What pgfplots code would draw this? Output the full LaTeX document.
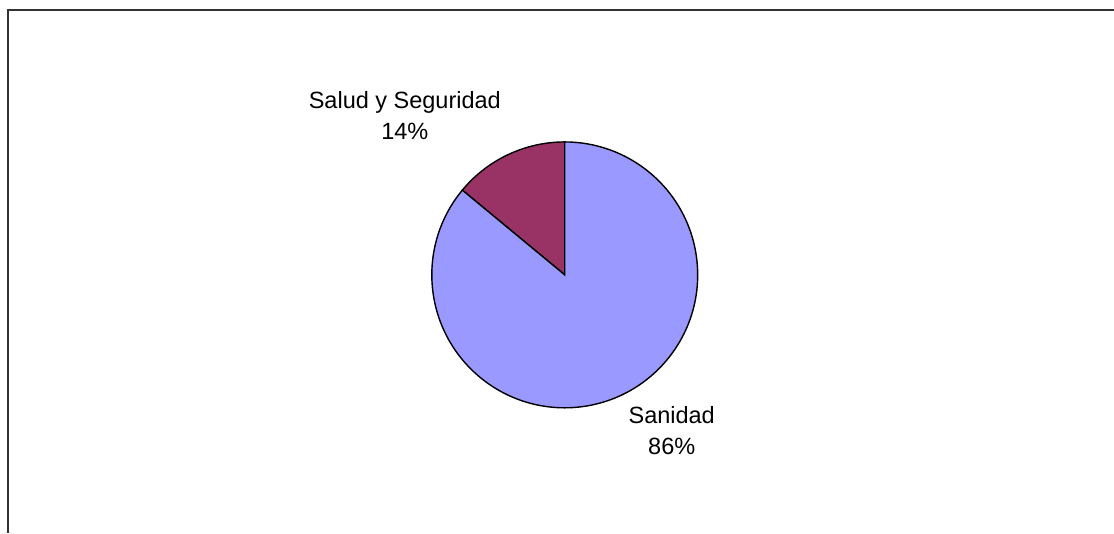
\documentclass[border=0pt]{standalone}
\usepackage{pgfplots}
\usepackage{pgfplotstable}
\usepackage{fontspec}
\setmainfont{Liberation Sans}
\pgfplotsset{compat=1.18}

\definecolor{sanidad}{HTML}{9999FF}
\definecolor{salud}{HTML}{993366}

% share of each sector, in percent
\pgfplotstableread{
value
14
86
}\piedata

\begin{document}
\begin{tikzpicture}
\pgfplotstablegetelem{0}{value}\of\piedata \let\vSalud\pgfplotsretval
\pgfplotstablegetelem{1}{value}\of\piedata \let\vSanidad\pgfplotsretval
\pgfmathsetmacro\aEnd{90+3.6*\vSalud}
\pgfmathsetmacro\xEnd{565+133*cos(\aEnd)}
\pgfmathsetmacro\yEnd{258+133*sin(\aEnd)}
\begin{axis}[
  scale only axis,
  width=557bp, height=266.5bp,
  xmin=0, xmax=1114, ymin=0, ymax=533,
  hide axis,
  clip=false,
]
% picture extent
\path (axis cs:0,0) rectangle (axis cs:1114,533);
% chart frame (only top and left visible)
\draw[line width=1bp, black!80, line cap=rect] (axis cs:8.5,0.5) -- (axis cs:8.5,523) -- (axis cs:1113.5,523);
% sectors
\filldraw[fill=salud, draw=black, line width=0.7bp]
  (axis cs:565,258) -- (axis cs:565,391) arc[start angle=90, end angle=\aEnd, radius=133] -- cycle;
\filldraw[fill=sanidad, draw=black, line width=0.7bp]
  (axis cs:565,258) -- (axis cs:\xEnd,\yEnd) arc[start angle=\aEnd, end angle=450, radius=133] -- cycle;
% labels
\node[align=center, font=\fontsize{11.8}{15.5}\selectfont] at (axis cs:405,417.5)
  {Salud y Seguridad\\\vSalud\%};
\node[align=center, font=\fontsize{11.8}{15.5}\selectfont] at (axis cs:672,102.5)
  {Sanidad\\\vSanidad\%};
\end{axis}
\end{tikzpicture}
\end{document}
